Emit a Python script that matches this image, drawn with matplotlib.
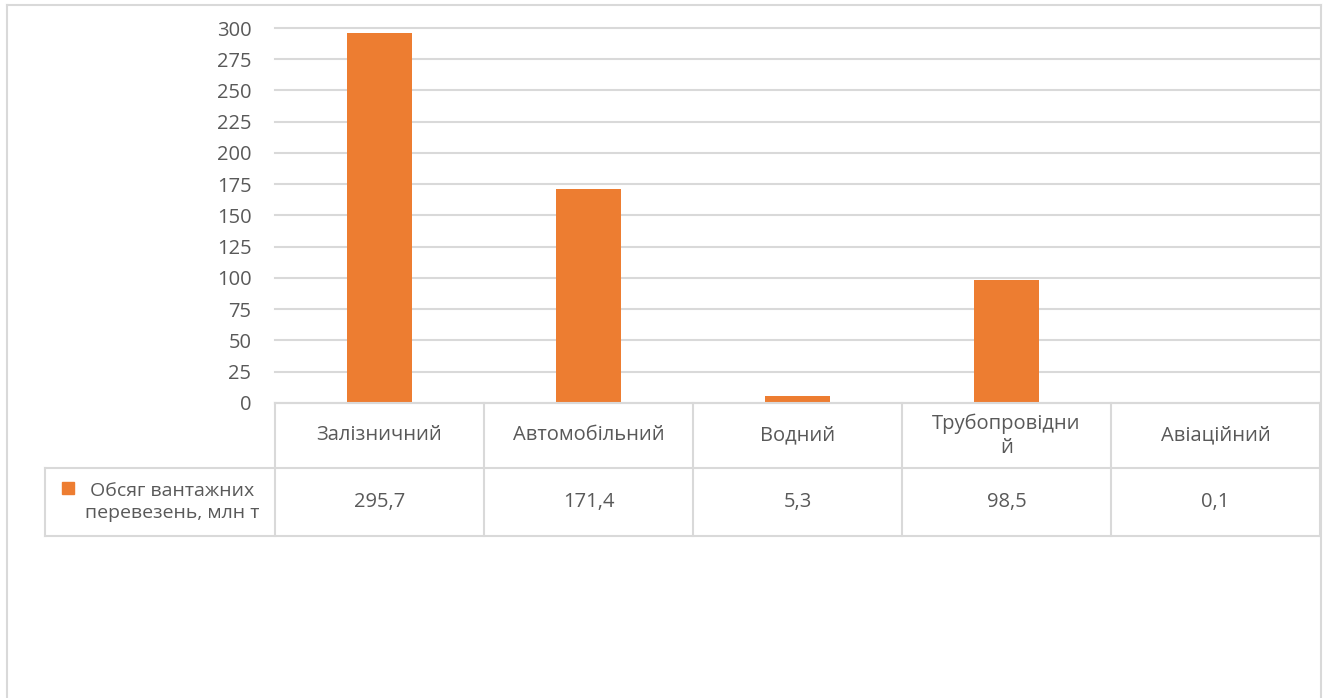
import matplotlib.pyplot as plt
import numpy as np

categories = ['Залізничний', 'Автомобільний', 'Водний', 'Трубопровідний', 'Авіаційний']
header_labels = ['Залізничний', 'Автомобільний', 'Водний', 'Трубопровідни\nй', 'Авіаційний']
values = [295.7, 171.4, 5.3, 98.5, 0.1]
series_name = 'Обсяг вантажних\nперевезень, млн т'
yticks = list(range(0, 301, 25))

plt.rcParams['font.family'] = ['Open Sans', 'DejaVu Sans']
txt = '#595959'
grid = '#d9d9d9'
orange = '#ED7D31'
fs = 14.5

W, H = 1327, 698
fig = plt.figure(figsize=(W / 100, H / 100), dpi=100)

# pixel helpers (top-left origin)
left, right, top, base = 275, 1320, 28, 403
ax = fig.add_axes([left / W, 1 - base / H, (right - left) / W, (base - top) / H])
x = np.arange(len(categories))
ax.bar(x, values, width=0.31, color=orange, zorder=3)
ax.set_xlim(-0.5, len(categories) - 0.5)
ax.set_ylim(0, 300)
ax.set_yticks(yticks)
ax.set_yticklabels([str(t) for t in yticks])
ax.tick_params(axis='y', length=0, pad=17, labelsize=fs, colors=txt)
ax.set_xticks([])
ax.grid(axis='y', color=grid, linewidth=1.5, zorder=0)
for gl in ax.get_ygridlines():
    gl.set_clip_on(False)
for s in ax.spines.values():
    s.set_visible(False)

# overlay in pixel coords for table and frame
ov = fig.add_axes([0, 0, 1, 1], zorder=5)
ov.set_xlim(0, W)
ov.set_ylim(H, 0)
ov.axis('off')
ov.patch.set_alpha(0)

lc = dict(color=grid, linewidth=1.5)
# figure frame
ov.plot([7, 7], [5, H + 5], **lc)
ov.plot([7, 1321], [5, 5], **lc)
ov.plot([1321, 1321], [5, H + 5], **lc)

# data table
col_w = (right - left) / len(categories)
bounds = [left + i * col_w for i in range(len(categories) + 1)]
r0, r1, r2 = 403, 468, 536
ov.plot([left, right], [r0, r0], **lc)
ov.plot([45, right], [r1, r1], **lc)
ov.plot([45, right], [r2, r2], **lc)
ov.plot([45, 45], [r1, r2], **lc)
for b in bounds:
    ov.plot([b, b], [r0, r2], **lc)

for i, (lab, v) in enumerate(zip(header_labels, values)):
    cx = (bounds[i] + bounds[i + 1]) / 2
    ov.text(cx, (r0 + r1) / 2, lab, ha='center', va='center', fontsize=fs,
            color=txt, linespacing=1.25)
    ov.text(cx, (r1 + r2) / 2, f'{v:.1f}'.replace('.', ','), ha='center',
            va='center', fontsize=fs, color=txt)

# legend key
ov.add_patch(plt.Rectangle((62, 482), 12, 12, color=orange))
ov.text(172, (r1 + r2) / 2, series_name, ha='center', va='center',
        fontsize=14, color=txt, linespacing=1.25)

fig.savefig('out.png', dpi=100)
